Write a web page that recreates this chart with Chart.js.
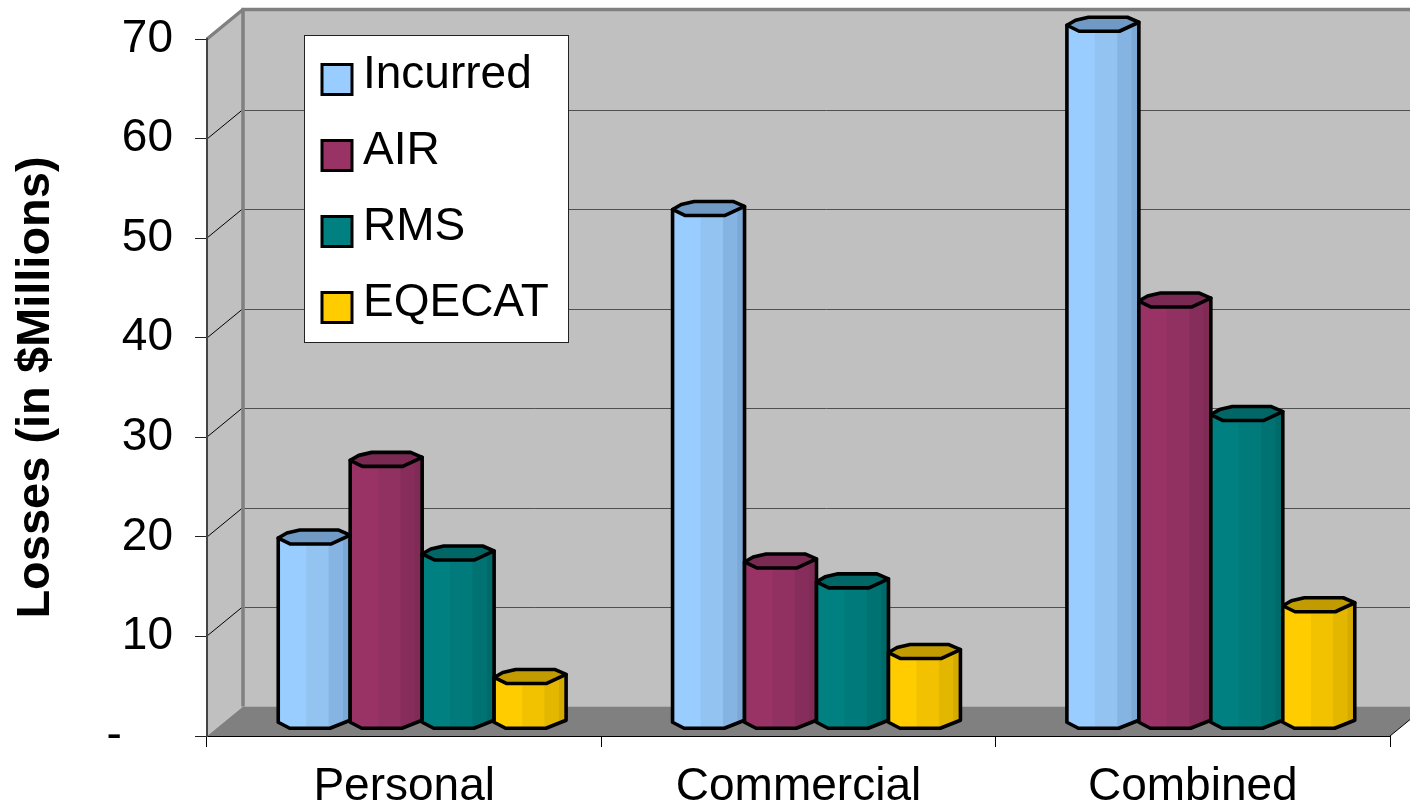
<!DOCTYPE html>
<html>
<head>
<meta charset="utf-8">
<title>Losses</title>
<script src="https://cdn.jsdelivr.net/npm/chart.js@4/dist/chart.umd.min.js"></script>
<style>
  html, body { margin: 0; padding: 0; background: #fff; }
  canvas { display: block; }
</style>
</head>
<body>
<canvas id="myChart" width="1410" height="804"></canvas>
<script>
'use strict';

const categories = ["Personal", "Commercial", "Combined"];
const seriesNames = ["Incurred", "AIR", "RMS", "EQECAT"];
const incurred = [18.5, 51.5, 70];
const air = [26.3, 16.1, 42.3];
const rms = [16.9, 14.1, 30.9];
const eqecat = [4.5, 7.0, 11.7];
const yTickLabels = ["-\u00a0\u00a0\u00a0\u00a0", "10", "20", "30", "40", "50", "60", "70"];
const yTitle = "Losses (in $Millions)";

// facet colours left to right, last one is the lid
const shades = [
  ["#99CCFF", "#93C3F1", "#85B4E2", "#7CA8D6", "#7099C4"],
  ["#993366", "#913161", "#872D5B", "#7F2B55", "#7A2952"],
  ["#008080", "#007A7A", "#007272", "#006A6A", "#006666"],
  ["#FFCC00", "#F2C200", "#E3B600", "#D6AB00", "#C29B00"],
];
const facetEnds = [0.39, 0.70, 0.90, 1];

const depthX = 36;
const depthY = -29.5;

function drawWalls(chart) {
  const ctx = chart.ctx;
  const area = chart.chartArea;
  const yScale = chart.scales.y;
  const backTop = area.top + depthY;
  const backBottom = area.bottom + depthY;
  const backLeft = area.left + depthX;

  ctx.save();
  ctx.fillStyle = "#C0C0C0";
  ctx.fillRect(backLeft, backTop, chart.width - backLeft, backBottom - backTop);
  ctx.beginPath();
  ctx.moveTo(area.left, area.top);
  ctx.lineTo(backLeft, backTop);
  ctx.lineTo(backLeft, backBottom);
  ctx.lineTo(area.left, area.bottom);
  ctx.closePath();
  ctx.fill();

  // floor
  ctx.fillStyle = "#808080";
  ctx.beginPath();
  ctx.moveTo(area.left, area.bottom);
  ctx.lineTo(backLeft, backBottom);
  ctx.lineTo(area.right + depthX, backBottom);
  ctx.lineTo(area.right, area.bottom);
  ctx.closePath();
  ctx.fill();

  // grid on the back wall and its diagonals on the side wall
  ctx.lineWidth = 1;
  for (let v = 10; v < 70; v += 10) {
    const y = Math.round(yScale.getPixelForValue(v));
    ctx.strokeStyle = "#505050";
    ctx.beginPath();
    ctx.moveTo(backLeft, Math.round(y + depthY) + 0.5);
    ctx.lineTo(chart.width, Math.round(y + depthY) + 0.5);
    ctx.stroke();
    ctx.strokeStyle = "#000";
    ctx.beginPath();
    ctx.moveTo(area.left, y);
    ctx.lineTo(backLeft, y + depthY);
    ctx.stroke();
  }

  // thick wall edges
  ctx.strokeStyle = "#808080";
  ctx.lineWidth = 3.5;
  ctx.beginPath();
  ctx.moveTo(chart.width, backTop);
  ctx.lineTo(backLeft, backTop);
  ctx.lineTo(backLeft, backBottom);
  ctx.moveTo(backLeft, backTop);
  ctx.lineTo(area.left, area.top);
  ctx.stroke();

  ctx.strokeStyle = "#000";
  ctx.lineWidth = 1;
  ctx.beginPath();
  ctx.moveTo(area.right, area.bottom);
  ctx.lineTo(area.right + depthX, backBottom);
  ctx.stroke();
  ctx.restore();
}

function drawCylinder(ctx, bar, colors, baseY) {
  const x0 = bar.x - bar.width / 2 + depthX / 2;
  const w = bar.width;
  const x1 = x0 + w;
  const top = bar.y + depthY / 2;
  const bottom = baseY + depthY / 2;

  ctx.save();
  ctx.lineWidth = 3.6;
  ctx.lineJoin = "round";
  ctx.strokeStyle = "#000";

  ctx.beginPath();
  ctx.moveTo(x0, top + 1);
  ctx.lineTo(x0, bottom + 1);
  ctx.lineTo(x0 + 0.16 * w, bottom + 7);
  ctx.lineTo(x0 + 0.72 * w, bottom + 7);
  ctx.lineTo(x1, bottom - 1);
  ctx.lineTo(x1, top - 2);
  ctx.closePath();
  ctx.save();
  ctx.clip();
  let start = 0;
  for (let i = 0; i < facetEnds.length; i++) {
    ctx.fillStyle = colors[i];
    ctx.fillRect(x0 + start * w, top - 10, (facetEnds[i] - start) * w + 1, bottom - top + 20);
    start = facetEnds[i];
  }
  ctx.restore();
  ctx.stroke();

  // lid
  ctx.fillStyle = colors[4];
  ctx.beginPath();
  ctx.moveTo(x0, top + 1);
  ctx.lineTo(x0 + 0.12 * w, top - 4);
  ctx.lineTo(x0 + 0.30 * w, top - 7);
  ctx.lineTo(x0 + 0.84 * w, top - 7);
  ctx.lineTo(x1, top - 2);
  ctx.lineTo(x0 + 0.73 * w, top + 7);
  ctx.lineTo(x0 + 0.17 * w, top + 7);
  ctx.closePath();
  ctx.fill();
  ctx.stroke();
  ctx.restore();
}

function drawLegend(chart) {
  const ctx = chart.ctx;
  ctx.save();
  ctx.fillStyle = "#fff";
  ctx.fillRect(304.5, 35.5, 264, 307);
  ctx.strokeStyle = "#222";
  ctx.lineWidth = 1;
  ctx.strokeRect(304.5, 35.5, 264, 307);
  ctx.font = "46px 'Liberation Sans'";
  ctx.textBaseline = "alphabetic";
  ctx.textAlign = "left";
  chart.data.datasets.forEach(function (dataset, i) {
    const top = 64.5 + i * 76;
    ctx.fillStyle = shades[i][0];
    ctx.fillRect(322, top, 30, 30);
    ctx.strokeStyle = "#000";
    ctx.lineWidth = 3;
    ctx.strokeRect(322, top, 30, 30);
    ctx.fillStyle = "#000";
    ctx.fillText(dataset.label, 363, 88 + i * 76);
  });
  ctx.restore();
}

const cylinders3d = {
  id: "cylinders3d",
  beforeDraw: function (chart) {
    drawWalls(chart);
  },
  beforeDatasetDraw: function () {
    return false;
  },
  afterDatasetsDraw: function (chart) {
    const baseY = chart.scales.y.getPixelForValue(0);
    chart.data.datasets.forEach(function (dataset, i) {
      chart.getDatasetMeta(i).data.forEach(function (bar) {
        drawCylinder(chart.ctx, bar, shades[i], baseY);
      });
    });
    drawLegend(chart);
  },
};

const seriesValues = [incurred, air, rms, eqecat];

new Chart(document.getElementById("myChart"), {
  type: "bar",
  data: {
    labels: categories,
    datasets: seriesNames.map(function (name, i) {
      return {
        label: name,
        data: seriesValues[i],
        backgroundColor: shades[i][0],
        barPercentage: 1,
        categoryPercentage: 0.73,
      };
    }),
  },
  plugins: [cylinders3d],
  options: {
    responsive: false,
    animation: false,
    layout: { padding: { top: 39, right: 20, left: 0, bottom: 0 } },
    plugins: { legend: { display: false }, tooltip: { enabled: false }, title: { display: false } },
    scales: {
      x: {
        afterFit: function (scale) { scale.height = 68; },
        grid: { drawOnChartArea: false, tickLength: 11, color: "#000", lineWidth: 1 },
        border: { color: "#000", width: 1 },
        ticks: {
          color: "#000",
          padding: 13,
          maxRotation: 0,
          autoSkip: false,
          font: { family: "'Liberation Sans'", size: 46 },
        },
      },
      y: {
        min: 0,
        max: 70,
        afterFit: function (scale) {
          scale.width = 207;
          scale.paddingTop = 0;
        },
        grid: { drawOnChartArea: false, tickLength: 12, color: "#222", lineWidth: 1 },
        border: { color: "#444", width: 2 },
        title: {
          display: true,
          text: yTitle,
          color: "#000",
          padding: { top: 8, bottom: 0 },
          font: { family: "'Liberation Sans'", size: 47, weight: "bold" },
        },
        ticks: {
          stepSize: 10,
          color: "#000",
          padding: 22,
          font: { family: "'Liberation Sans'", size: 46 },
          callback: function (value) { return yTickLabels[value / 10]; },
        },
      },
    },
  },
});
</script>
</body>
</html>
